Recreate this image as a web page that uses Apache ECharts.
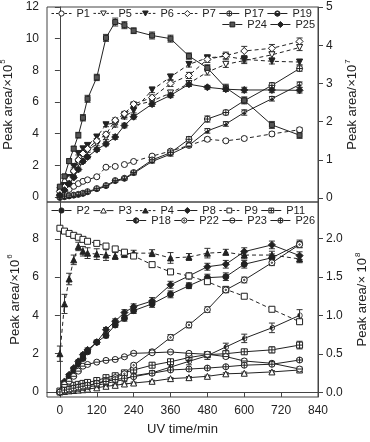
<!DOCTYPE html>
<html>
<head>
<meta charset="utf-8">
<script src="https://cdn.jsdelivr.net/npm/echarts@6.0.0/dist/echarts.min.js"></script>
<style>
html,body{margin:0;padding:0;background:#fff;}
#chart{width:370px;height:442px;}
</style>
</head>
<body>
<div id="chart"></div>
<script>
// sampling times (min)
var times = [0, 15, 30, 45, 60, 75, 90, 120, 150, 180, 210, 240, 300, 360, 420, 480, 540, 600, 690, 780];

// upper panel, left axis (x10^5)
var p24 = [0.65, 1.3, 2.26, 3.05, 3.9, 5.0, 6.2, 7.55, 10.05, 11.05, 10.85, 10.5, 10.2, 10.0, 8.9, 8.15, 6.9, 6.1, 4.55, 3.9];
// upper panel, right axis (x10^7)
var p1 = [0.08, 0.17, 0.23, 0.31, 0.38, 0.44, 0.48, 0.56, 0.81, 0.83, 0.88, 0.96, 1.1, 1.23, 1.38, 1.54, 1.5, 1.56, 1.68, 1.79];
var p5 = [0.13, 0.25, 0.42, 0.63, 0.92, 1.08, 1.25, 1.42, 1.58, 1.92, 2.17, 2.42, 2.54, 2.75, 3.0, 3.3, 3.5, 3.6, 3.75, 3.94];
var p6 = [0.21, 0.33, 0.54, 0.83, 1.17, 1.29, 1.38, 1.6, 1.92, 1.98, 2.13, 2.29, 2.83, 3.17, 3.5, 3.67, 3.71, 3.63, 3.58, 3.56];
var p7 = [0.17, 0.29, 0.5, 0.71, 1.0, 1.17, 1.29, 1.5, 1.67, 2.04, 2.21, 2.46, 2.63, 3.0, 3.21, 3.63, 3.73, 3.85, 3.92, 4.1];
var p17 = [0.02, 0.04, 0.06, 0.08, 0.1, 0.13, 0.17, 0.25, 0.33, 0.46, 0.52, 0.67, 1.0, 1.19, 1.54, 2.07, 2.24, 2.55, 2.95, 3.39];
var p19 = [0.0, 0.02, 0.04, 0.06, 0.08, 0.1, 0.15, 0.23, 0.31, 0.44, 0.5, 0.65, 0.96, 1.15, 1.38, 1.76, 1.94, 2.24, 2.6, 2.97];
var p25 = [0.08, 0.21, 0.38, 0.54, 0.75, 0.96, 1.08, 1.27, 1.42, 1.6, 1.9, 2.13, 2.46, 2.69, 2.98, 2.9, 2.85, 2.83, 2.83, 2.82];

// lower panel, left axis (x10^6)
var p2 = [0.0, 0.45, 0.8, 1.1, 1.45, 1.75, 2.1, 2.6, 2.95, 3.5, 3.85, 4.25, 4.6, 5.1, 5.55, 5.97, 6.02, 6.67, 7.01, 7.73];
var p3 = [0.0, 0.03, 0.06, 0.08, 0.1, 0.12, 0.15, 0.22, 0.3, 0.35, 0.42, 0.47, 0.56, 0.7, 0.75, 0.82, 0.95, 0.98, 1.05, 1.15];
var p4 = [2.0, 4.6, 5.9, 6.9, 7.6, 7.35, 7.25, 7.2, 7.15, 7.1, 7.2, 7.25, 7.25, 7.0, 7.05, 7.25, 7.3, 7.15, 7.15, 6.95];
var p8 = [0.0, 0.55, 0.9, 1.25, 1.6, 1.95, 2.2, 2.6, 3.25, 3.7, 4.15, 4.45, 4.75, 5.6, 6.06, 6.54, 6.67, 7.33, 7.68, 7.12];
var p9 = [8.55, 8.4, 8.28, 8.18, 8.08, 7.97, 7.87, 7.76, 7.62, 7.47, 7.3, 7.1, 6.65, 6.27, 6.06, 5.76, 5.36, 5.0, 4.32, 3.67];
var p11 = [0.05, 0.2, 0.3, 0.35, 0.4, 0.45, 0.5, 0.6, 0.75, 0.85, 1.0, 1.15, 1.4, 1.58, 1.8, 1.95, 2.0, 2.1, 2.2, 2.45];
var p18 = [0.0, 0.05, 0.08, 0.1, 0.15, 0.2, 0.25, 0.35, 0.45, 0.55, 0.65, 0.85, 1.0, 1.3, 1.6, 1.9, 2.35, 2.8, 3.35, 4.0];
var p22 = [0.0, 0.05, 0.1, 0.15, 0.2, 0.25, 0.3, 0.45, 0.6, 0.75, 0.95, 1.4, 2.1, 2.85, 3.5, 4.3, 5.33, 5.85, 6.75, 7.7];
var p23 = [0.0, 0.39, 0.56, 0.82, 1.09, 1.35, 1.44, 1.56, 1.65, 1.7, 1.84, 2.02, 2.05, 2.09, 2.02, 1.97, 1.85, 1.62, 1.5, 1.2];
var p26 = [0.0, 0.1, 0.15, 0.2, 0.25, 0.3, 0.35, 0.45, 0.55, 0.65, 0.72, 0.8, 0.98, 1.15, 1.2, 1.25, 1.32, 1.4, 1.45, 1.67];

// error bar half-widths, same units as the series
var e24 = [0.1, 0.12, 0.15, 0.15, 0.18, 0.2, 0.22, 0.2, 0.22, 0.25, 0.22, 0.18, 0.22, 0.22, 0.2, 0.2, 0.22, 0.22, 0.22, 0.2];
var e1 = [0.02, 0.02, 0.02, 0.02, 0.03, 0.03, 0.03, 0.03, 0.03, 0.03, 0.03, 0.03, 0.04, 0.04, 0.04, 0.05, 0.04, 0.04, 0.05, 0.05];
var e5 = [0.02, 0.03, 0.03, 0.04, 0.04, 0.05, 0.05, 0.05, 0.05, 0.06, 0.06, 0.06, 0.06, 0.07, 0.07, 0.08, 0.08, 0.08, 0.08, 0.08];
var e6 = [0.02, 0.03, 0.03, 0.04, 0.04, 0.05, 0.05, 0.05, 0.05, 0.06, 0.06, 0.06, 0.07, 0.07, 0.07, 0.07, 0.07, 0.07, 0.07, 0.07];
var e7 = [0.02, 0.03, 0.03, 0.04, 0.04, 0.05, 0.05, 0.05, 0.06, 0.06, 0.06, 0.06, 0.07, 0.08, 0.08, 0.08, 0.09, 0.12, 0.1, 0.09];
var e17 = [0.01, 0.01, 0.01, 0.02, 0.02, 0.02, 0.02, 0.03, 0.03, 0.03, 0.03, 0.04, 0.05, 0.05, 0.07, 0.08, 0.06, 0.07, 0.07, 0.07];
var e19 = [0.01, 0.01, 0.01, 0.02, 0.02, 0.02, 0.02, 0.03, 0.03, 0.03, 0.03, 0.04, 0.04, 0.05, 0.05, 0.06, 0.06, 0.07, 0.06, 0.07];
var e25 = [0.02, 0.02, 0.03, 0.03, 0.04, 0.04, 0.05, 0.05, 0.05, 0.06, 0.06, 0.06, 0.06, 0.06, 0.06, 0.05, 0.06, 0.07, 0.07, 0.07];
var e2 = [0.03, 0.05, 0.05, 0.06, 0.07, 0.08, 0.1, 0.1, 0.12, 0.12, 0.15, 0.15, 0.18, 0.18, 0.15, 0.18, 0.2, 0.2, 0.2, 0.2];
var e3 = [0.02, 0.02, 0.02, 0.02, 0.03, 0.03, 0.03, 0.04, 0.04, 0.04, 0.04, 0.05, 0.05, 0.05, 0.06, 0.06, 0.06, 0.06, 0.07, 0.07];
var e4 = [0.4, 0.5, 0.3, 0.25, 0.22, 0.25, 0.28, 0.28, 0.28, 0.18, 0.18, 0.15, 0.18, 0.28, 0.18, 0.25, 0.15, 0.2, 0.2, 0.2];
var e8 = [0.03, 0.05, 0.05, 0.06, 0.07, 0.08, 0.1, 0.1, 0.12, 0.12, 0.15, 0.15, 0.18, 0.18, 0.15, 0.18, 0.2, 0.2, 0.2, 0.2];
var e9 = [0.08, 0.08, 0.08, 0.08, 0.08, 0.08, 0.08, 0.08, 0.08, 0.08, 0.08, 0.08, 0.1, 0.1, 0.1, 0.1, 0.12, 0.1, 0.1, 0.12];
var e11 = [0.03, 0.04, 0.05, 0.05, 0.06, 0.06, 0.07, 0.08, 0.08, 0.1, 0.1, 0.1, 0.12, 0.12, 0.12, 0.12, 0.12, 0.12, 0.15, 0.2];
var e18 = [0.02, 0.03, 0.03, 0.04, 0.04, 0.05, 0.05, 0.06, 0.06, 0.07, 0.08, 0.1, 0.12, 0.15, 0.18, 0.2, 0.2, 0.22, 0.25, 0.3];
var e22 = [0.02, 0.03, 0.03, 0.04, 0.04, 0.05, 0.05, 0.06, 0.06, 0.07, 0.08, 0.1, 0.12, 0.15, 0.15, 0.15, 0.15, 0.15, 0.15, 0.15];
var e23 = [0.02, 0.04, 0.05, 0.06, 0.06, 0.07, 0.07, 0.07, 0.07, 0.07, 0.07, 0.08, 0.08, 0.08, 0.08, 0.08, 0.1, 0.1, 0.1, 0.1];
var e26 = [0.02, 0.02, 0.03, 0.03, 0.03, 0.04, 0.04, 0.04, 0.05, 0.05, 0.05, 0.05, 0.06, 0.06, 0.06, 0.07, 0.07, 0.07, 0.08, 0.08];

// tick labels
var xTicks = [0, 120, 240, 360, 480, 600, 720, 840];
var topLeftTicks = [0, 2, 4, 6, 8, 10, 12];
var topRightTicks = [0, 1, 2, 3, 4, 5];
var botLeftTicks = [0, 2, 4, 6, 8];
var botRightTicks = [0, 0.5, 1.0, 1.5, 2.0];

var font = 'Liberation Sans, Arial, sans-serif';
var ink = '#222';

// plot marker paths (10x10 box)
var circ = 'M5,0A5,5,0,1,1,5,10A5,5,0,1,1,5,0Z';
var ring = circ + 'M5,1.2A3.8,3.8,0,1,0,5,8.8A3.8,3.8,0,1,0,5,1.2Z';
var marker = {
  circle: 'circle',
  triDown: 'triangle',
  triUp: 'triangle',
  diamond: 'diamond',
  rect: 'rect',
  circlePlus: 'path://' + circ + 'M0,5L10,5M5,0L5,10',
  circleBar: 'path://' + circ + 'M0,5L10,5',
  circleDot: 'path://' + circ + 'M5,3.8A1.2,1.2,0,1,1,5,6.2A1.2,1.2,0,1,1,5,3.8Z',
  halfLeft: 'path://' + ring + 'M5,0A5,5,0,0,0,5,10Z',
  halfBottom: 'path://' + ring + 'M0,5A5,5,0,0,0,10,5Z',
  squarePlus: 'path://M0,0L10,0L10,10L0,10ZM0,5L10,5M5,0L5,10'
};

// legend icon paths (20x6 box: line + marker)
var lc = 'M12.6,3A2.6,2.6,0,1,1,7.4,3A2.6,2.6,0,1,1,12.6,3Z';
var lring = lc + 'M12,3A2,2,0,1,0,8,3A2,2,0,1,0,12,3Z';
var lsq = 'M7.6,0.6L12.4,0.6L12.4,5.4L7.6,5.4Z';
var legendMark = {
  circle: lc,
  triDown: 'M7.2,0.6L12.8,0.6L10,5.6Z',
  triUp: 'M10,0.4L12.8,5.4L7.2,5.4Z',
  diamond: 'M10,0L13,3L10,6L7,3Z',
  rect: lsq,
  circlePlus: lc + 'M7.4,3L12.6,3M10,0.4L10,5.6',
  circleBar: lc + 'M7.4,3L12.6,3',
  circleDot: lc + 'M10.7,3A0.7,0.7,0,1,1,9.3,3A0.7,0.7,0,1,1,10.7,3Z',
  halfLeft: lring + 'M10,0.4A2.6,2.6,0,0,0,10,5.6Z',
  halfBottom: lring + 'M7.4,3A2.6,2.6,0,0,0,12.6,3Z',
  squarePlus: lsq + 'M7.6,3L12.4,3M10,0.6L10,5.4'
};
var solidSeg = 'M0,3L7,3M13,3L20,3';
var dashSeg = 'M0,3L2.5,3M4.5,3L7,3M13,3L15.5,3M17.5,3L20,3';

// name, values, errors, xAxis, yAxis, marker, fill, dashed, size
var specs = [
  ['P1', p1, e1, 0, 1, 'circle', '#fff', true, 6],
  ['P5', p5, e5, 0, 1, 'triDown', '#fff', true, 6],
  ['P6', p6, e6, 0, 1, 'triDown', ink, true, 6],
  ['P7', p7, e7, 0, 1, 'diamond', '#fff', true, 7],
  ['P17', p17, e17, 0, 1, 'circlePlus', '#fff', false, 6],
  ['P19', p19, e19, 0, 1, 'halfBottom', ink, false, 6],
  ['P24', p24, e24, 0, 0, 'rect', '#555', false, 5],
  ['P25', p25, e25, 0, 1, 'diamond', ink, false, 7],
  ['P2', p2, e2, 1, 2, 'circle', ink, false, 6],
  ['P3', p3, e3, 1, 2, 'triUp', '#fff', false, 6],
  ['P4', p4, e4, 1, 2, 'triUp', ink, true, 6],
  ['P8', p8, e8, 1, 2, 'diamond', ink, false, 7],
  ['P9', p9, e9, 1, 2, 'rect', '#fff', true, 6],
  ['P11', p11, e11, 1, 2, 'squarePlus', '#fff', false, 6],
  ['P18', p18, e18, 1, 2, 'halfLeft', ink, false, 6],
  ['P22', p22, e22, 1, 2, 'circleDot', '#fff', false, 6],
  ['P23', p23, e23, 1, 2, 'circleBar', '#fff', false, 6],
  ['P26', p26, e26, 1, 2, 'circlePlus', '#fff', false, 6]
];

function mk(s) {
  var half = s[5] === 'halfLeft' || s[5] === 'halfBottom';
  return {
    name: s[0],
    type: 'line',
    xAxisIndex: s[3],
    yAxisIndex: s[4],
    data: times.map(function (t, i) { return [t, s[1][i]]; }),
    symbol: marker[s[5]],
    symbolSize: s[8],
    symbolRotate: s[5] === 'triDown' ? 180 : 0,
    lineStyle: { color: ink, width: 1, type: s[7] ? [4, 3] : 'solid' },
    itemStyle: { color: s[6], borderColor: ink, borderWidth: half ? 0 : 1 },
    z: 3
  };
}

// error bars drawn as a custom series
function errBars(s) {
  var vals = s[1], errs = s[2];
  return {
    type: 'custom',
    xAxisIndex: s[3],
    yAxisIndex: s[4],
    silent: true,
    z: 2,
    encode: { x: 0, y: 1 },
    data: times.map(function (t, i) { return [t, vals[i], errs[i]]; }),
    renderItem: function (params, api) {
      var t = api.value(0), v = api.value(1), e = api.value(2);
      var hi = api.coord([t, v + e]);
      var lo = api.coord([t, v - e]);
      var w = 3;
      var st = { stroke: '#333', lineWidth: 1 };
      return {
        type: 'group',
        children: [
          { type: 'line', shape: { x1: hi[0], y1: hi[1], x2: lo[0], y2: lo[1] }, style: st },
          { type: 'line', shape: { x1: hi[0] - w, y1: hi[1], x2: hi[0] + w, y2: hi[1] }, style: st },
          { type: 'line', shape: { x1: lo[0] - w, y1: lo[1], x2: lo[0] + w, y2: lo[1] }, style: st }
        ]
      };
    }
  };
}

var series = specs.map(mk).concat(specs.map(errBars));

function legendItem(name) {
  var s = specs.filter(function (d) { return d[0] === name; })[0];
  return {
    name: name,
    icon: 'path://' + (s[7] ? dashSeg : solidSeg) + legendMark[s[5]],
    itemStyle: { color: s[6], borderColor: ink, borderWidth: 1 }
  };
}

function axisName(base, pow) {
  return '{a|' + base + '}{b|' + pow + '}';
}
var nameRich = {
  a: { fontSize: 13, color: ink, fontFamily: font, lineHeight: 18 },
  b: { fontSize: 8, color: ink, fontFamily: font, verticalAlign: 'top', lineHeight: 18, padding: [0, 0, 0, 1] }
};

function yAx(grid, pos, min, max, ticks, title, pow, gap, dec) {
  return {
    type: 'value', gridIndex: grid, position: pos, min: min, max: max,
    name: axisName(title, pow), nameLocation: 'middle', nameGap: gap, nameRotate: 90,
    nameTextStyle: { rich: nameRich },
    axisLine: { show: true, lineStyle: { color: '#444' } },
    axisTick: { show: true, inside: false, length: 5, customValues: ticks, lineStyle: { color: '#444' } },
    axisLabel: {
      customValues: ticks, margin: 8, color: ink, fontSize: 12, fontFamily: font,
      formatter: function (v) { return dec ? v.toFixed(1) : String(v); }
    },
    splitLine: { show: false }
  };
}

var legendText = { fontSize: 11, color: ink, fontFamily: font };
function lg(names, pos) {
  var o = {
    data: names.map(legendItem), orient: 'horizontal', itemWidth: 20, itemHeight: 6, itemGap: 3,
    textStyle: legendText, padding: 0, selectedMode: false
  };
  for (var k in pos) o[k] = pos[k];
  return o;
}

var option = {
  animation: false,
  backgroundColor: '#fff',
  grid: [
    { left: 47, right: 52, top: 7, height: 195, show: true, borderColor: '#444', borderWidth: 1, outerBoundsMode: 'none' },
    { left: 47, right: 52, top: 202, height: 195, show: true, borderColor: '#444', borderWidth: 1, outerBoundsMode: 'none' }
  ],
  legend: [
    lg(['P1', 'P5', 'P6', 'P7', 'P17', 'P19'], { left: 51, top: 8 }),
    lg(['P24', 'P25'], { right: 55, top: 19 }),
    lg(['P2', 'P3', 'P4', 'P8', 'P9', 'P11'], { left: 51, top: 205 }),
    lg(['P18', 'P22', 'P23', 'P26'], { right: 55, top: 215 })
  ],
  xAxis: [
    {
      type: 'value', gridIndex: 0, min: -42, max: 840,
      axisLine: { show: false }, axisTick: { show: false }, axisLabel: { show: false }, splitLine: { show: false }
    },
    {
      type: 'value', gridIndex: 1, min: -42, max: 840,
      name: 'UV time/min', nameLocation: 'middle', nameGap: 26,
      nameTextStyle: { fontSize: 13, color: ink, fontFamily: font },
      axisLine: { show: true, lineStyle: { color: '#444' } },
      axisTick: { show: true, length: 5, customValues: xTicks, lineStyle: { color: '#444' } },
      axisLabel: { customValues: xTicks, margin: 8, color: ink, fontSize: 12, fontFamily: font },
      splitLine: { show: false }
    }
  ],
  yAxis: [
    yAx(0, 'left', -0.32, 12, topLeftTicks, 'Peak area/×10', '5', 20, false),
    yAx(0, 'right', -0.1, 5, topRightTicks, 'Peak area/×10', '7', 17, false),
    yAx(1, 'left', -0.26, 9.92, botLeftTicks, 'Peak area/×10', '6', 8, false),
    yAx(1, 'right', -0.06, 2.47, botRightTicks, 'Peak area/× 10', '8', 31, true)
  ],
  series: series
};

var myChart = echarts.init(document.getElementById('chart'));
myChart.setOption(option);
window.addEventListener('resize', function () { myChart.resize(); });
</script>
</body>
</html>
